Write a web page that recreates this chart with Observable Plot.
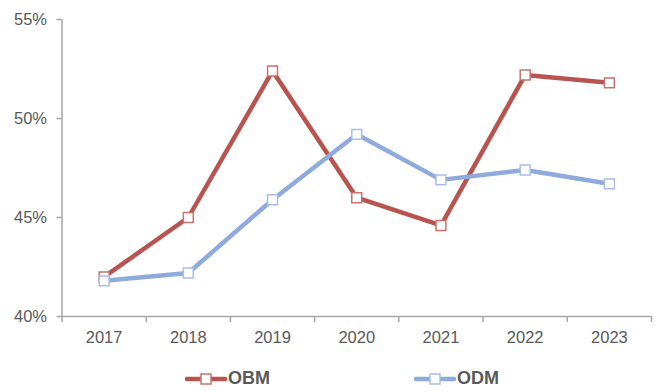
<!DOCTYPE html>
<html>
<head>
<meta charset="utf-8">
<script src="https://cdn.jsdelivr.net/npm/d3@7"></script>
<script src="https://cdn.jsdelivr.net/npm/@observablehq/plot@0.6"></script>
<style>
  body { margin: 0; background: #fff; font-family: "Liberation Sans", Arial, sans-serif; }
  #chart svg text { font-size: 16.5px !important; }
  #legend { position: relative; height: 47px; font-weight: bold; font-size: 18px; color: #595959; }
  .item { display: flex; align-items: center; position: absolute; top: 23px; }
  .item span { margin-left: 1px; }
</style>
</head>
<body>
<div id="chart"></div>
<div id="legend"></div>
<script>
// Share of each business model by year
const years = [2017, 2018, 2019, 2020, 2021, 2022, 2023];
const obm = [0.420, 0.450, 0.524, 0.460, 0.446, 0.522, 0.518];
const odm = [0.418, 0.422, 0.459, 0.492, 0.469, 0.474, 0.467];
const yTicks = [0.40, 0.45, 0.50, 0.55];
const seriesNames = ["OBM", "ODM"];
const lineColors = {OBM: "#b85450", ODM: "#8faadc"};
const markColors = {OBM: "#c9736d", ODM: "#a9bde6"};

const rows = [
  ...years.map((year, i) => ({year, value: obm[i], series: "OBM"})),
  ...years.map((year, i) => ({year, value: odm[i], series: "ODM"}))
];
// category boundaries sit half a year either side of each label
const bounds = [...years.map(y => y - 0.5), years[years.length - 1] + 0.5];

const axisColor = "#a6a6a6";
const textColor = "#595959";

const chart = Plot.plot({
  width: 662,
  height: 345,
  marginLeft: 61.5,
  marginRight: 11,
  marginTop: 19,
  marginBottom: 29,
  style: {fontFamily: "Liberation Sans, Arial, sans-serif", color: textColor, background: "#fff"},
  x: {type: "linear", domain: [bounds[0], bounds[bounds.length - 1]]},
  y: {domain: [0.40, 0.55]},
  marks: [
    Plot.axisY({ticks: yTicks, tickFormat: d3.format(".0%"), tickSize: 5, tickPadding: 10, stroke: axisColor, strokeWidth: 1.5, fill: textColor, label: null}),
    Plot.axisX({ticks: years, tickFormat: d => String(d), tickSize: 0, tickPadding: 15, fill: textColor, label: null}),
    Plot.ruleX(bounds, {x: d => d, y1: 0.40, y2: 0.40, insetBottom: -6, stroke: axisColor, strokeWidth: 1.5}),
    Plot.ruleY([0.40], {stroke: axisColor, strokeWidth: 1.5}),
    Plot.ruleX([bounds[0]], {y1: 0.40, y2: 0.55, stroke: axisColor, strokeWidth: 1.5}),
    Plot.line(rows, {x: "year", y: "value", z: "series", stroke: d => lineColors[d.series], strokeWidth: 4.5, strokeLinejoin: "miter"}),
    Plot.dot(rows, {x: "year", y: "value", symbol: "square", r: 5.6, fill: "#fff", stroke: d => markColors[d.series], strokeWidth: 1.5})
  ]
});
document.getElementById("chart").append(chart);

// legend: line sample with a square marker, then the series name
const legend = document.getElementById("legend");
const legendX = {OBM: 185, ODM: 414};
for (const name of seriesNames) {
  const item = document.createElement("div");
  item.className = "item";
  item.style.left = legendX[name] + "px";
  item.innerHTML = `<svg width="42" height="14"><line x1="2" x2="40" y1="7" y2="7" stroke="${lineColors[name]}" stroke-width="4.5" stroke-linecap="round"/><rect x="16" y="2" width="10" height="10" fill="#fff" stroke="${markColors[name]}" stroke-width="1.5"/></svg><span>${name}</span>`;
  legend.append(item);
}
</script>
</body>
</html>
